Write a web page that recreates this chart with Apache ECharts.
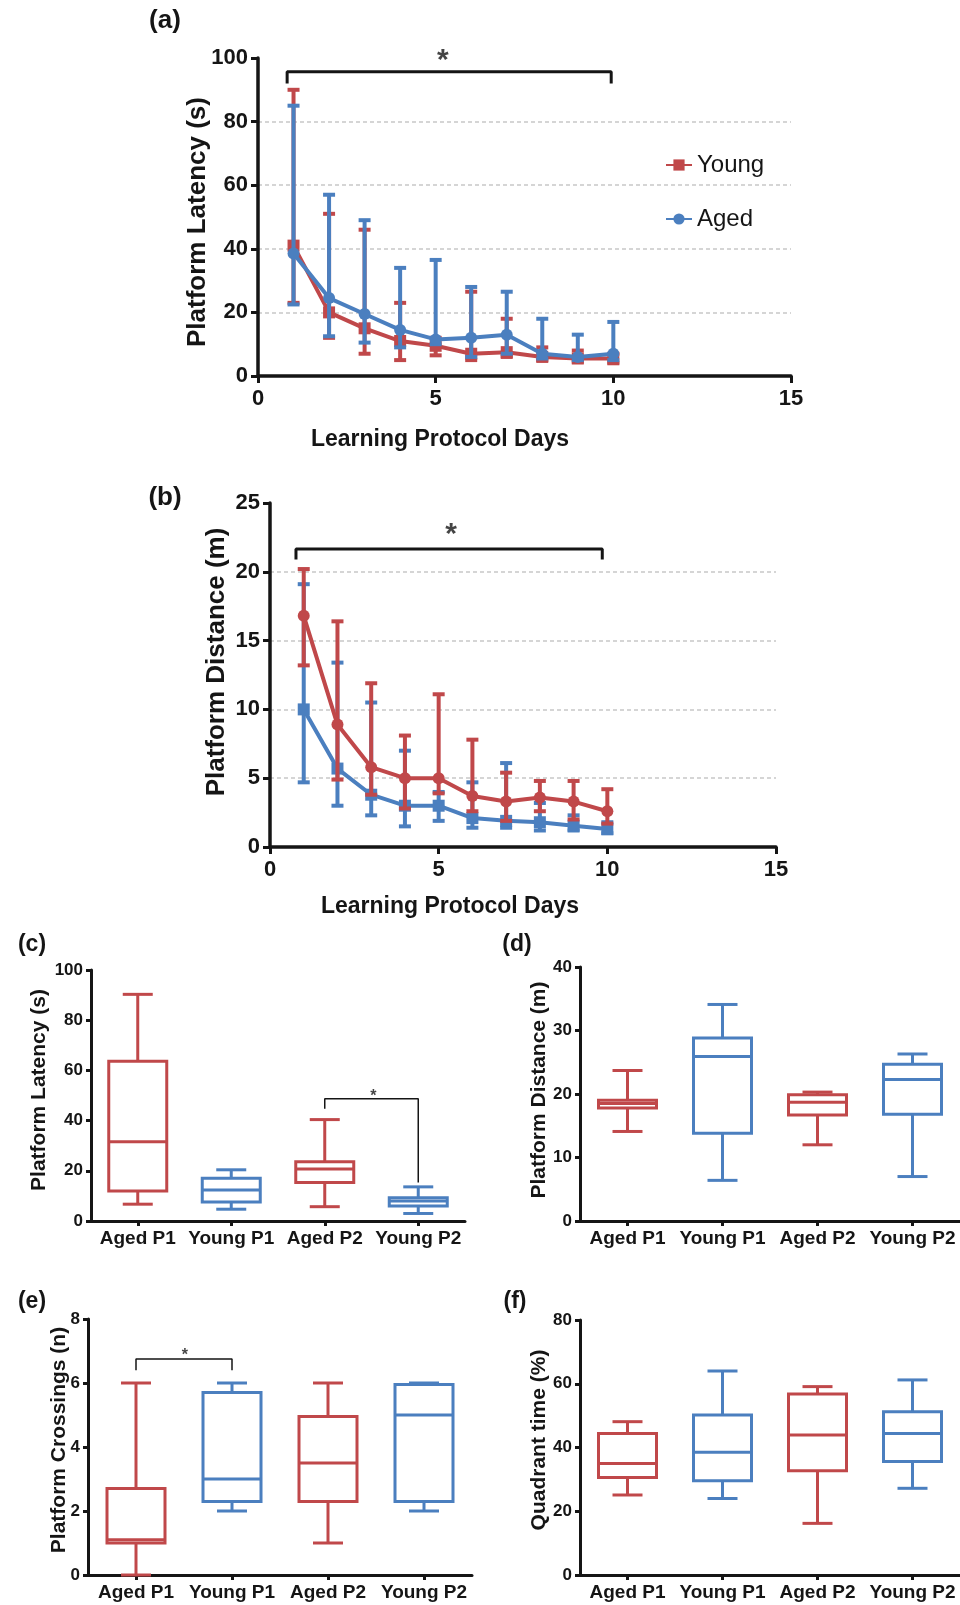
<!DOCTYPE html>
<html><head><meta charset="utf-8">
<script src="https://cdn.jsdelivr.net/npm/echarts@6/dist/echarts.min.js"></script>
<style>html,body{margin:0;padding:0;background:#fff}#c{width:960px;height:1605px}</style>
</head><body><div id="c"></div>
<script>
// ---------- DATA ----------
const days = [1, 2, 3, 4, 5, 6, 7, 8, 9, 10];

// (a) Platform latency (s)
const youngLatMean  = [41, 20, 15, 11, 9.5, 7, 7.5, 6, 5.5, 5.5];
const youngLatUpper = [90, 51, 46, 23, 12, 26.5, 18, 9, 8, 7];
const youngLatLower = [23, 12, 7, 5, 6.5, 5, 6, 5, 4.5, 4];
const agedLatMean   = [38.5, 24.5, 19.5, 14.5, 11.5, 12, 13, 7, 6, 7];
const agedLatUpper  = [85, 57, 49, 34, 36.5, 28, 26.5, 18, 13, 17];
const agedLatLower  = [22.5, 12.5, 10.5, 9, 10, 6, 7, 5.5, 5, 5];

// (b) Platform distance (m)
const youngDistMean  = [16.8, 8.9, 5.8, 5.0, 5.0, 3.7, 3.3, 3.6, 3.3, 2.6];
const youngDistUpper = [20.2, 16.4, 11.9, 8.1, 11.1, 7.8, 5.4, 4.8, 4.8, 4.2];
const youngDistLower = [13.2, 4.9, 3.8, 2.8, 3.9, 2.6, 1.9, 2.6, 2.0, 1.7];
const agedDistMean   = [10.0, 5.7, 3.8, 3.0, 3.0, 2.1, 1.9, 1.8, 1.55, 1.3];
const agedDistUpper  = [19.1, 13.4, 10.5, 7.0, 4.0, 4.7, 6.1, 3.2, 2.3, 1.8];
const agedDistLower  = [4.7, 3.0, 2.3, 1.5, 1.9, 1.4, 1.4, 1.2, 1.2, 1.0];

// Box plots: [min, Q1, median, Q3, max]
const groups = ['Aged P1', 'Young P1', 'Aged P2', 'Young P2'];
const latencyBox   = [[6.7, 12, 31.6, 63.6, 90.3], [4.7, 7.6, 12.4, 17, 20.4], [5.7, 15.3, 20.7, 23.6, 40.4], [3, 6, 8, 9.3, 13.6]];
const distanceBox  = [[14.1, 17.8, 18.5, 19, 23.7], [6.4, 13.8, 25.9, 28.8, 34.1], [12, 16.7, 18.7, 19.9, 20.3], [7, 16.8, 22.3, 24.7, 26.3]];
const crossingsBox = [[0, 1.0, 1.1, 2.7, 6], [2, 2.3, 3.0, 5.7, 6], [1, 2.3, 3.5, 4.95, 6], [2, 2.3, 5.0, 5.95, 6]];
const quadrantBox  = [[25.1, 30.6, 35, 44.4, 48.1], [24, 29.6, 38.5, 50.2, 64], [16.2, 32.7, 43.9, 56.8, 59.1], [27.2, 35.6, 44.4, 51.2, 61.2]];

// Significance brackets and stars
const bracketA = [[0.82, 92], [0.82, 95.7], [9.94, 95.7], [9.94, 92]];
const starA = [[5.2, 99]];
const bracketB = [[0.77, 20.9], [0.77, 21.65], [9.85, 21.65], [9.85, 20.9]];
const starB = [[5.37, 22.7]];
const bracketC = [[2, 44.7], [2, 48.7], [3, 48.7], [3, 15.3]];
const starC = [[2.52, 49.6]];
const bracketE = [[0, 6.4], [0, 6.75], [1, 6.75], [1, 6.4]];
const starE = [[0.51, 6.85]];

// Axis ticks
const dayTicks = [0, 5, 10, 15];
const groupTicks = [0, 1, 2, 3];

// ---------- STYLE ----------
const RED = '#c0484a', BLUE = '#4b7fbf', INK = '#151515';
const FONT = '"Liberation Sans", Arial, sans-serif';

const chart = echarts.init(document.getElementById('c'), null, {renderer: 'canvas'});

const zip = (xs, ys) => xs.map((x, i) => [x, ys[i]]);
const errData = (mean, lo, hi) => days.map((d, i) => [d, lo[i], hi[i]]);

function errRender(params, api) {
  const x = api.value(0);
  const a = api.coord([x, api.value(1)]);
  const b = api.coord([x, api.value(2)]);
  const c = api.visual('color');
  const cw = 6;
  const st = {stroke: c, lineWidth: 4};
  return {type: 'group', children: [
    {type: 'line', shape: {x1: a[0], y1: a[1], x2: b[0], y2: b[1]}, style: st},
    {type: 'line', shape: {x1: a[0] - cw, y1: a[1], x2: a[0] + cw, y2: a[1]}, style: st},
    {type: 'line', shape: {x1: b[0] - cw, y1: b[1], x2: b[0] + cw, y2: b[1]}, style: st}
  ]};
}

function boxRender(params, api) {
  const x = api.value(0);
  const P = v => api.coord([x, v]);
  const cx = P(api.value(1))[0];
  const yMin = P(api.value(1))[1], yQ1 = P(api.value(2))[1], yMed = P(api.value(3))[1],
        yQ3 = P(api.value(4))[1], yMax = P(api.value(5))[1];
  const color = (x % 2 === 0) ? RED : BLUE;
  const hw = 29, cw = 15;
  const st = {stroke: color, lineWidth: 3};
  return {type: 'group', children: [
    {type: 'line', shape: {x1: cx, y1: yQ1, x2: cx, y2: yMin}, style: st},
    {type: 'line', shape: {x1: cx, y1: yQ3, x2: cx, y2: yMax}, style: st},
    {type: 'line', shape: {x1: cx - cw, y1: yMin, x2: cx + cw, y2: yMin}, style: st},
    {type: 'line', shape: {x1: cx - cw, y1: yMax, x2: cx + cw, y2: yMax}, style: st},
    {type: 'rect', shape: {x: cx - hw, y: yQ3, width: 2 * hw, height: yQ1 - yQ3}, style: {stroke: color, lineWidth: 3, fill: '#fff'}},
    {type: 'line', shape: {x1: cx - hw, y1: yMed, x2: cx + hw, y2: yMed}, style: st}
  ]};
}

const boxData = arr => arr.map((b, i) => [i].concat(b));

function lineAxisX(gi) {
  return {
    type: 'value', gridIndex: gi, min: 0, max: 15, interval: 5,
    axisLine: {show: true, onZero: false, lineStyle: {color: INK, width: 3.5}},
    axisTick: {show: true, length: 7, lineStyle: {color: INK, width: 3}},
    axisLabel: {color: INK, fontFamily: FONT, fontWeight: 'bold', fontSize: 22, margin: 12},
    splitLine: {show: false}
  };
}
function lineAxisY(gi, max, interval) {
  return {
    type: 'value', gridIndex: gi, min: 0, max: max, interval: interval,
    axisLine: {show: true, onZero: false, lineStyle: {color: INK, width: 3.5}},
    axisTick: {show: true, length: 7, lineStyle: {color: INK, width: 3}},
    axisLabel: {color: INK, fontFamily: FONT, fontWeight: 'bold', fontSize: 22, margin: 10},
    splitLine: {show: true, showMinLine: false, showMaxLine: false, lineStyle: {color: '#c8c8c8', width: 1.5, type: [4, 3]}}
  };
}
function boxAxisX(gi) {
  return {
    type: 'value', gridIndex: gi, min: -0.5, max: 3.5,
    axisLine: {show: true, onZero: false, lineStyle: {color: INK, width: 3}},
    axisTick: {show: true, length: 5, customValues: groupTicks, lineStyle: {color: INK, width: 3}},
    axisLabel: {customValues: groupTicks, formatter: v => groups[Math.round(v)], color: INK, fontFamily: FONT, fontWeight: 'bold', fontSize: 19, margin: 8},
    splitLine: {show: false}
  };
}
function boxAxisY(gi, max, interval) {
  return {
    type: 'value', gridIndex: gi, min: 0, max: max, interval: interval,
    axisLine: {show: true, onZero: false, lineStyle: {color: INK, width: 3}},
    axisTick: {show: true, length: 5, lineStyle: {color: INK, width: 3}},
    axisLabel: {color: INK, fontFamily: FONT, fontWeight: 'bold', fontSize: 17, margin: 8},
    splitLine: {show: false}
  };
}

function bracket(data, xi, width) {
  return {type: 'line', xAxisIndex: xi, yAxisIndex: xi, data: data, symbol: 'none', silent: true,
    lineStyle: {color: INK, width: width}, z: 5};
}
function star(data, xi, size) {
  return {type: 'scatter', xAxisIndex: xi, yAxisIndex: xi, data: data, symbolSize: 1, silent: true,
    itemStyle: {color: 'rgba(0,0,0,0)'},
    label: {show: true, position: 'inside', formatter: '*', color: INK, fontFamily: FONT, fontWeight: 'bold', fontSize: size}, z: 6};
}
function errSeries(name, mean, lo, hi, color, xi, z) {
  return {type: 'custom', name: name, xAxisIndex: xi, yAxisIndex: xi, renderItem: errRender,
    data: errData(mean, lo, hi), itemStyle: {color: color}, encode: {x: 0, y: [1, 2]}, z: z, silent: true};
}
function meanSeries(name, mean, color, symbol, xi, z) {
  return {type: 'line', name: name, xAxisIndex: xi, yAxisIndex: xi, data: zip(days, mean),
    symbol: symbol, symbolSize: 12, itemStyle: {color: color}, lineStyle: {color: color, width: 4}, z: z};
}
function boxSeries(arr, xi) {
  return {type: 'custom', xAxisIndex: xi, yAxisIndex: xi, renderItem: boxRender, data: boxData(arr),
    encode: {x: 0, y: [1, 2, 3, 4, 5]}, silent: true, z: 3};
}

function txt(text, x, y, size, rotate, weight) {
  return {type: 'text', x: x, y: y, rotation: rotate ? Math.PI / 2 : 0, silent: true,
    style: {text: text, font: (weight || 'bold') + ' ' + size + 'px ' + FONT, fill: INK, align: 'center', verticalAlign: 'middle'}};
}

const option = {
  animation: false,
  backgroundColor: '#ffffff',
  grid: [
    {left: 258, top: 58, width: 533, height: 318},
    {left: 270, top: 503, width: 506, height: 344},
    {left: 91, top: 970, width: 374, height: 251},
    {left: 580, top: 967, width: 381, height: 254},
    {left: 88, top: 1319, width: 384, height: 256},
    {left: 580, top: 1320, width: 381, height: 255}
  ],
  xAxis: [lineAxisX(0), lineAxisX(1), boxAxisX(2), boxAxisX(3), boxAxisX(4), boxAxisX(5)],
  yAxis: [lineAxisY(0, 100, 20), lineAxisY(1, 25, 5), boxAxisY(2, 100, 20), boxAxisY(3, 40, 10), boxAxisY(4, 8, 2), boxAxisY(5, 80, 20)],
  legend: {
    orient: 'vertical', left: 660, top: 148, itemGap: 30, itemWidth: 26, itemHeight: 14,
    data: ['Young', 'Aged'],
    textStyle: {fontFamily: FONT, fontSize: 24, color: INK}
  },
  graphic: [
    txt('(a)', 165, 21, 26), txt('(b)', 165, 498, 26),
    txt('(c)', 32, 945, 23), txt('(d)', 517, 945, 23),
    txt('(e)', 32, 1302, 23), txt('(f)', 515, 1302, 23),
    txt('Platform Latency (s)', 198, 222, 26, true),
    txt('Learning Protocol Days', 440, 440, 23),
    txt('Platform Distance (m)', 217, 662, 26, true),
    txt('Learning Protocol Days', 450, 907, 23),
    txt('Platform Latency (s)', 39, 1090, 21, true),
    txt('Platform Distance (m)', 539, 1090, 21, true),
    txt('Platform Crossings (n)', 59, 1440, 21, true),
    txt('Quadrant time (%)', 539, 1440, 21, true)
  ],
  series: [
    // (a): red beneath, blue on top
    errSeries('Young err', youngLatMean, youngLatLower, youngLatUpper, RED, 0, 2),
    meanSeries('Young', youngLatMean, RED, 'rect', 0, 3),
    errSeries('Aged err', agedLatMean, agedLatLower, agedLatUpper, BLUE, 0, 4),
    meanSeries('Aged', agedLatMean, BLUE, 'circle', 0, 5),
    bracket(bracketA, 0, 3), star(starA, 0, 30),
    // (b): blue beneath, red on top
    errSeries('Aged err', agedDistMean, agedDistLower, agedDistUpper, BLUE, 1, 2),
    meanSeries('Aged', agedDistMean, BLUE, 'rect', 1, 3),
    errSeries('Young err', youngDistMean, youngDistLower, youngDistUpper, RED, 1, 4),
    meanSeries('Young', youngDistMean, RED, 'circle', 1, 5),
    bracket(bracketB, 1, 3), star(starB, 1, 30),
    // box plots
    boxSeries(latencyBox, 2), bracket(bracketC, 2, 1.5), star(starC, 2, 16),
    boxSeries(distanceBox, 3),
    boxSeries(crossingsBox, 4), bracket(bracketE, 4, 1.5), star(starE, 4, 16),
    boxSeries(quadrantBox, 5)
  ]
};
chart.setOption(option);
</script>
</body></html>
